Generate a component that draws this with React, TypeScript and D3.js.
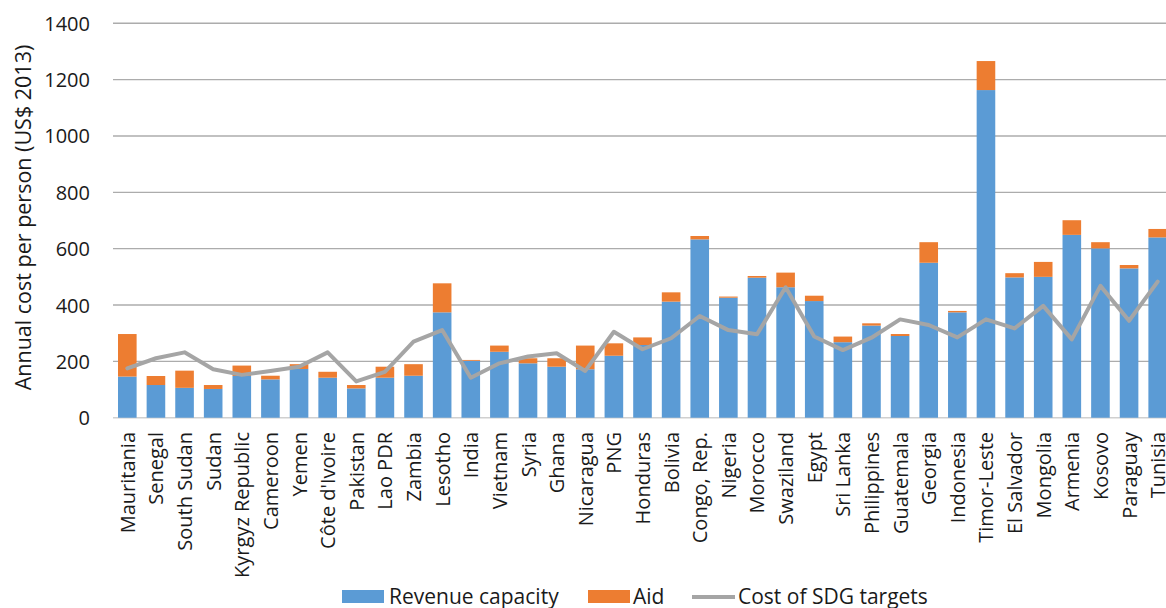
import React from "react";
import * as d3 from "d3";

const countries = [
  "Mauritania", "Senegal", "South Sudan", "Sudan", "Kyrgyz Republic", "Cameroon", "Yemen",
  "Côte d'Ivoire", "Pakistan", "Lao PDR", "Zambia", "Lesotho", "India", "Vietnam", "Syria",
  "Ghana", "Nicaragua", "PNG", "Honduras", "Bolivia", "Congo, Rep.", "Nigeria", "Morocco",
  "Swaziland", "Egypt", "Sri Lanka", "Philippines", "Guatemala", "Georgia", "Indonesia",
  "Timor-Leste", "El Salvador", "Mongolia", "Armenia", "Kosovo", "Paraguay", "Tunisia",
];

const revenueCapacity = [
  146, 116, 106, 102, 148, 136, 173, 142, 104, 142, 149, 374, 202, 234, 193, 181, 172, 220, 258,
  412, 633, 426, 497, 463, 414, 268, 327, 290, 550, 374, 1163, 498, 500, 649, 601, 530, 640,
];

const aid = [
  151, 32, 61, 14, 37, 13, 17, 21, 12, 39, 41, 103, 3, 22, 18, 30, 84, 44, 27,
  33, 12, 4, 6, 52, 19, 20, 8, 7, 73, 5, 103, 15, 53, 52, 22, 12, 30,
];

const sdgCost = [
  175, 211, 232, 172, 152, 166, 181, 232, 129, 163, 270, 311, 142, 193, 217, 229, 166, 305, 243,
  282, 361, 311, 296, 463, 288, 240, 284, 349, 329, 285, 349, 317, 397, 278, 468, 344, 483,
];

const yTicks = [0, 200, 400, 600, 800, 1000, 1200, 1400];

const W = 1166;
const H = 608;
const FONT = "'Open Sans', 'DejaVu Sans', sans-serif";
const BLUE = "#5b9bd5";
const ORANGE = "#ed7d31";
const GRAY = "#a5a5a5";
const TEXT = "#1a1a1a";

export default function App() {
  const x = d3
    .scaleBand<string>()
    .domain(countries)
    .range([113, 1172])
    .paddingInner(0.35)
    .paddingOuter(0.175);
  const y = d3.scaleLinear().domain([0, 1400]).range([417.7, 23.3]);

  const line = d3
    .line<number>()
    .x((_, i) => (x(countries[i]) as number) + x.bandwidth() / 2)
    .y((d) => y(d));

  return (
    <svg
      width={W}
      height={H}
      style={{ position: "absolute", left: 0, top: 0, background: "#fff" }}
      fontFamily={FONT}
    >
      {/* gridlines */}
      {yTicks.map((t) => (
        <line
          key={t}
          x1={113}
          x2={W}
          y1={y(t)}
          y2={y(t)}
          stroke={t === 0 ? "#d0d0d0" : "#acacac"}
          strokeWidth={1.4}
        />
      ))}
      {/* y tick labels */}
      {yTicks.map((t) => (
        <text
          key={"l" + t}
          x={90}
          y={y(t)}
          textAnchor="end"
          dominantBaseline="central"
          fontSize={20}
          fill={TEXT}
        >
          {t}
        </text>
      ))}
      {/* y axis title */}
      <text
        transform={`translate(31, 217.5) rotate(-90)`}
        textAnchor="middle"
        fontSize={21.5}
        fill={TEXT}
      >
        Annual cost per person (US$ 2013)
      </text>
      {/* bars */}
      {countries.map((c, i) => {
        const bx = x(c) as number;
        const bw = x.bandwidth();
        const r = revenueCapacity[i];
        const a = aid[i];
        return (
          <g key={c}>
            <rect x={bx} y={y(r)} width={bw} height={y(0) - y(r)} fill={BLUE} />
            <rect x={bx} y={y(r + a)} width={bw} height={y(r) - y(r + a)} fill={ORANGE} />
          </g>
        );
      })}
      {/* SDG cost line */}
      <path
        d={line(sdgCost) || ""}
        fill="none"
        stroke={GRAY}
        strokeWidth={4}
        strokeLinejoin="round"
        strokeLinecap="round"
      />
      {/* category labels */}
      {countries.map((c) => {
        const cx = (x(c) as number) + x.bandwidth() / 2;
        return (
          <text
            key={"c" + c}
            transform={`translate(${cx}, 432) rotate(-90)`}
            textAnchor="end"
            dominantBaseline="central"
            fontSize={20}
            fill={TEXT}
          >
            {c}
          </text>
        );
      })}
      {/* legend */}
      <rect x={342} y={590} width={42} height={13} fill={BLUE} />
      <text x={389} y={603.5} fontSize={21} fill={TEXT}>
        Revenue capacity
      </text>
      <rect x={588} y={590} width={42} height={13} fill={ORANGE} />
      <text x={633} y={603.5} fontSize={21} fill={TEXT}>
        Aid
      </text>
      <line x1={692} x2={735} y1={597} y2={597} stroke={GRAY} strokeWidth={4} />
      <text x={738} y={603.5} fontSize={21} fill={TEXT}>
        Cost of SDG targets
      </text>
    </svg>
  );
}
